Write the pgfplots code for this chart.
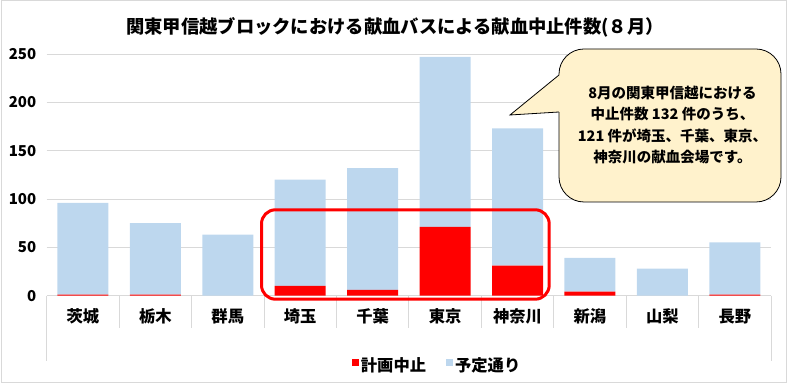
\documentclass[border=0pt]{standalone}
\usepackage{fontspec}
\setmainfont{Noto Sans CJK JP}
\usepackage{pgfplots}
\pgfplotsset{compat=1.18}
\definecolor{barblue}{HTML}{BDD7EE}
\definecolor{barred}{HTML}{FF0000}
\definecolor{gridgray}{HTML}{D9D9D9}
\definecolor{callout}{HTML}{FFF2CC}
\begin{document}
\begin{tikzpicture}
\path[use as bounding box] (0pt,0pt) rectangle (789pt,385pt);
\draw[gridgray, line width=1pt] (1pt,2.5pt) rectangle (786pt,384pt);
\node[font=\fontsize{18.3}{20}\selectfont\bfseries] at (395pt,358pt) {関東甲信越ブロックにおける献血バスによる献血中止件数(８月）};
\begin{axis}[
  at={(46.7pt,89.4pt)}, anchor=south west, scale only axis,
  width=724.3pt, height=241.6pt,
  ybar stacked, bar width=51pt,
  xmin=-0.5, xmax=9.5, ymin=0, ymax=250,
  xtick=data,
  xticklabels={茨城,栃木,群馬,埼玉,千葉,東京,神奈川,新潟,山梨,長野},
  ytick={0,50,...,250},
  ymajorgrids, grid style={gridgray, line width=0.8pt},
  axis line style={draw=none},
  major tick length=0pt,
  /pgf/number format/assume math mode=true,
  yticklabel style={font=\fontsize{15}{15}\selectfont\bfseries, xshift=-7pt},
  xticklabel style={font=\fontsize{16.3}{16.3}\selectfont\bfseries, anchor=center, yshift=-20.5pt},
  legend style={at={(0.539,-0.287)}, anchor=center, draw=none, fill=none,
    legend columns=-1, font=\fontsize{16.3}{16.3}\selectfont\bfseries,
    /tikz/every even column/.append style={column sep=18pt}},
]
\addplot[fill=barred, draw=none, legend image code/.code={\fill[barred] (0pt,-1pt) rectangle (7pt,6pt);}]
  coordinates {(0,1) (1,1) (2,0) (3,10) (4,6) (5,71) (6,31) (7,4) (8,0) (9,1)};
\addplot[fill=barblue, draw=none, legend image code/.code={\fill[barblue] (0pt,-1pt) rectangle (7pt,6pt);}]
  coordinates {(0,95) (1,74) (2,63) (3,110) (4,126) (5,176) (6,142) (7,35) (8,28) (9,54)};
\legend{計画中止,予定通り}
\end{axis}
\foreach \k in {1,...,9}
  \draw[gridgray, line width=0.8pt] ({46.7pt+72.43pt*\k},89.4pt) -- ++(0pt,-32.4pt);
\draw[gridgray, line width=0.8pt] (46.7pt,89.4pt) -- (46.7pt,24pt);
\draw[gridgray, line width=0.8pt] (771pt,89.4pt) -- (771pt,24pt);
\draw[barred, line width=3pt, rounded corners=14pt] (261.5pt,175.2pt) rectangle (549.2pt,85.8pt);
% callout
\draw[fill=callout, line width=0.8pt, rounded corners=25pt] (559pt,183pt) rectangle (781pt,336pt);
\fill[callout] (510pt,270pt) -- (559pt,310pt) -- (562pt,310pt) -- (562pt,273pt) -- (559pt,273pt) -- cycle;
\draw[line width=0.8pt] (559pt,273pt) -- (510pt,270pt) -- (559pt,310pt);
\node[align=center, font=\fontsize{14.5}{21.5}\selectfont\bfseries] at (672.5pt,260pt)
  {8月の関東甲信越における\\中止件数 132 件のうち、\\121 件が埼玉、千葉、東京、\\神奈川の献血会場です。};
\end{tikzpicture}
\end{document}
